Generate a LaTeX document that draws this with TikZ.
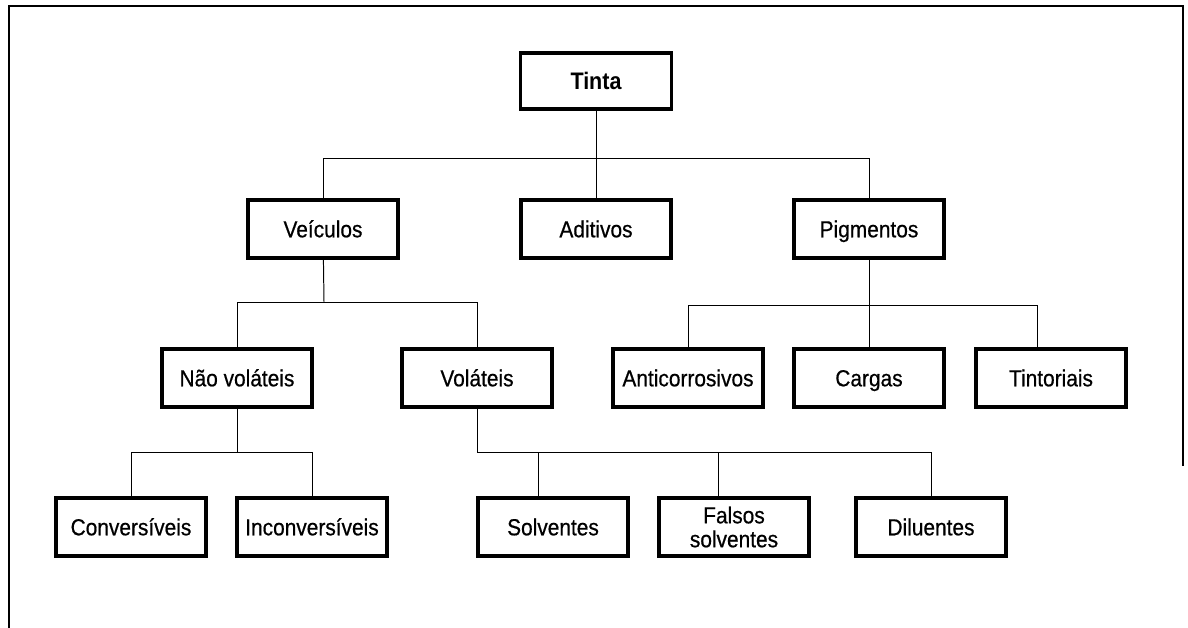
\documentclass[tikz,border=0pt]{standalone}
\usepackage{fontspec}
\setmainfont{Liberation Sans}[FakeStretch=0.9,UprightFeatures={FakeBold=0.6}]

\begin{document}
\begin{tikzpicture}[x=0.025cm,y=-0.025cm,
	boxframe/.style={draw,line width=2.5pt,minimum width=3.75cm,minimum height=1.45cm,inner sep=0pt,align=center,font=\fontsize{16.5}{17}\selectfont},
	box/.style={boxframe,text height=11.8pt,text depth=0pt},
	link/.style={line width=0.7pt},
	hv/.style={to path={-| (\tikztotarget)}}]
	\useasboundingbox (0,0) rectangle (1188,628);
	\draw[line width=1pt] (9,628) -- (9,6) -- (1183,6) -- (1183,466);

	\node[box,font=\fontsize{17}{18}\selectfont\bfseries,minimum width=3.78cm,minimum height=1.4cm] (tinta) at (596,81) {Tinta};
	\node[box] (veiculos)  at (323,229) {Veículos};
	\node[box] (aditivos)  at (596,229) {Aditivos};
	\node[box] (pigmentos) at (869,229) {Pigmentos};
	\node[box] (naovol)    at (237,378) {Não voláteis};
	\node[box] (volateis)  at (477,378) {Voláteis};
	\node[box] (anticorr)  at (688,378) {Anticorrosivos};
	\node[box] (cargas)    at (869,378) {Cargas};
	\node[box] (tintoriais) at (1051,378) {Tintoriais};
	\node[box] (convers)   at (131,527) {Conversíveis};
	\node[box] (inconv)    at (312,527) {Inconversíveis};
	\node[box] (solventes) at (553,527) {Solventes};
	\node[boxframe] (falsos) at (734,527) {Falsos\\solventes};
	\node[box] (diluentes) at (931,527) {Diluentes};

	\coordinate (j1) at (596,158);
	\coordinate (j2) at (324,302);
	\coordinate (j3) at (869,305);
	\coordinate (j4) at (237,452);
	\coordinate (j5) at (477,452);
	\coordinate (t1) at (1037,349.5);
	\coordinate (s1) at (538,498.5);
	\coordinate (f1) at (718,498.5);

	\path[link]
	(tinta) edge (aditivos)
	(j1) edge[hv] (veiculos)
	     edge[hv] (pigmentos)
	(veiculos) edge (j2)
	(j2) edge[hv] (naovol)
	     edge[hv] (volateis)
	(pigmentos) edge (cargas)
	(j3) edge[hv] (anticorr)
	     edge[hv] (t1)
	(naovol) edge (j4)
	(j4) edge[hv] (convers)
	     edge[hv] (inconv)
	(volateis) edge (j5)
	(j5) edge[hv] (s1)
	     edge[hv] (f1)
	     edge[hv] (diluentes);
\end{tikzpicture}
\end{document}
